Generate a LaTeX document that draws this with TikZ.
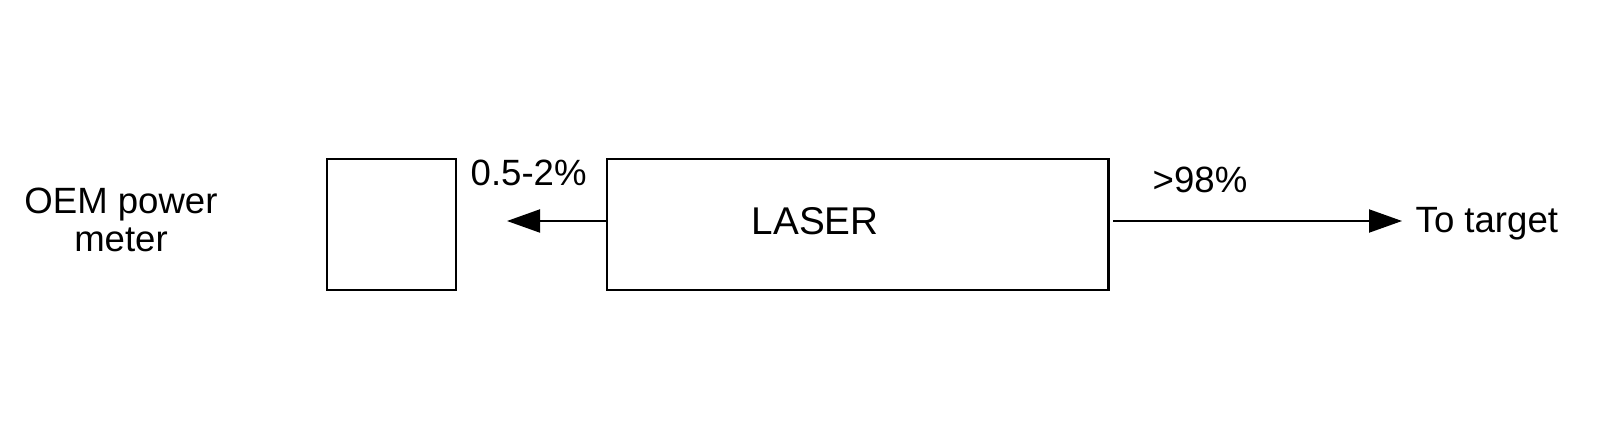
\documentclass[tikz,border=0pt]{standalone}
\usepackage{fontspec}
\setmainfont{Liberation Sans}
\usetikzlibrary{arrows.meta}
\begin{document}
\begin{tikzpicture}[x=0.01cm,y=-0.01cm,
  boxshape/.style={draw, line width=0.027cm, inner sep=0pt, minimum height=1.31cm},
  lbl/.style={inner sep=0pt, anchor=base west, font=\fontsize{10.4}{10.6}\selectfont},
  arr/.style={line width=0.02cm, -{Triangle[length=0.33cm,width=0.23cm]}}]
\useasboundingbox (0,0) rectangle (1604,431);
\node (meterbox) [boxshape, minimum width=1.29cm] at (391.5,224.5) {};
\node (laserbox) [boxshape, minimum width=5.01cm] at (857.5,224.5) {};
\node (oem) [inner sep=0pt, anchor=base, align=center, font=\fontsize{10.4}{10.9}\selectfont] at (121,252) {OEM power\\meter};
\node (laser) [lbl, font=\fontsize{11}{13}\selectfont] at (751,235) {LASER};
\node (low) [lbl] at (470,186) {0.5-2\%};
\node (high) [lbl] at (1152,193) {>98\%};
\node (target) [lbl] at (1415,233) {To target};
\coordinate (ltip) at (507,221);
\coordinate (rstart) at (1113,221);
\coordinate (rtip) at (1402,221);
\draw[arr] (laserbox.west |- ltip) -- (ltip);
\draw[arr] (rstart) -- (rtip);
\end{tikzpicture}
\end{document}
